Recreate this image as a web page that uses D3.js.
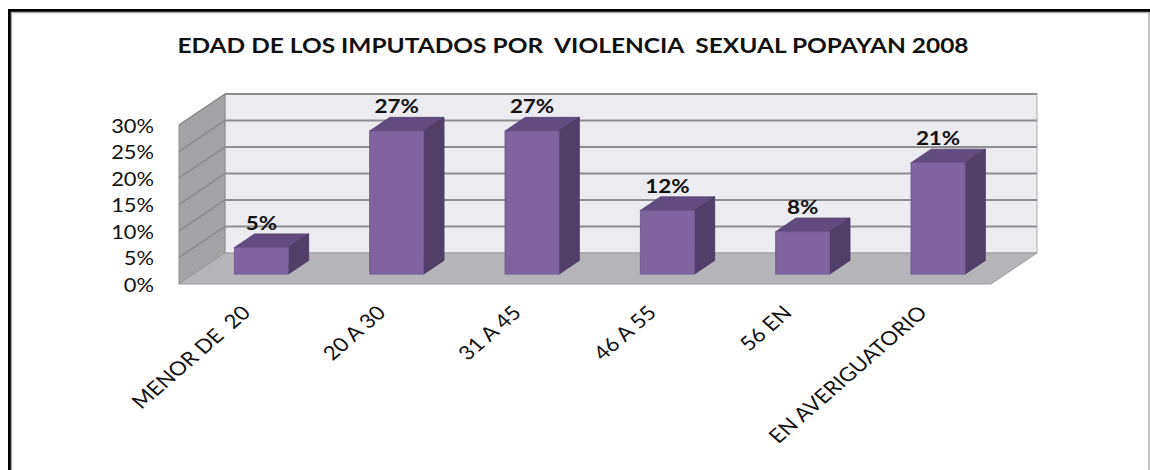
<!DOCTYPE html>
<html>
<head>
<meta charset="utf-8">
<script src="https://cdn.jsdelivr.net/npm/d3@7"></script>
<style>
  body { margin: 0; background: #fff; }
  svg { display: block; }
  text { font-family: Lato, "Open Sans", sans-serif; white-space: pre; }
</style>
</head>
<body>
<div id="chart"></div>
<script>
// datos del grafico
var categorias = ["MENOR DE  20", "20 A 30", "31 A 45", "46 A 55", "56 EN", "EN AVERIGUATORIO"];
var valores = [0.05, 0.27, 0.27, 0.12, 0.08, 0.21];
var etiquetas = ["5%", "27%", "27%", "12%", "8%", "21%"];
var ticksY = [0, 0.05, 0.10, 0.15, 0.20, 0.25, 0.30];
var titulo = "EDAD DE LOS IMPUTADOS POR  VIOLENCIA  SEXUAL POPAYAN 2008";

var width = 1150, height = 470;
var estirar = 1.15; // el original esta estirado a lo ancho

var svg = d3.select("#chart").append("svg")
    .attr("width", width)
    .attr("height", height);

// marco
svg.append("rect")
    .attr("x", 9.5).attr("y", 10.5)
    .attr("width", 1145).attr("height", 480)
    .attr("fill", "none").attr("stroke", "#000").attr("stroke-width", 3);
svg.append("rect")
    .attr("x", 11.5).attr("y", 12.5)
    .attr("width", 1137.5).attr("height", 480)
    .attr("fill", "none").attr("stroke", "#aaa").attr("stroke-width", 1.5);

// plano frontal y profundidad
var frontX0 = 179, frontX1 = 991, baseY = 284;
var depthX = 46, depthY = -31;
var barD0 = 0.32, barD1 = 0.76;

var x = d3.scaleBand()
    .domain(categorias)
    .range([frontX0, frontX1])
    .paddingInner(0.6)
    .paddingOuter(0.3);

var xCat = d3.scaleBand().domain(categorias).range([frontX0, frontX1]);

var y = d3.scaleLinear().domain([0, 0.30]).range([0, 159]);

var backBase = baseY + depthY;
var topH = y(0.30);

// pared del fondo
svg.append("rect")
    .attr("x", frontX0 + depthX).attr("y", backBase - topH)
    .attr("width", frontX1 - frontX0).attr("height", topH)
    .attr("fill", "#ecebf0").attr("stroke", "#a9a9ab").attr("stroke-width", 1);

// pared lateral
svg.append("polygon")
    .attr("points", [
        [frontX0, baseY], [frontX0, baseY - topH],
        [frontX0 + depthX, backBase - topH], [frontX0 + depthX, backBase]
    ].join(" "))
    .attr("fill", "#a3a3a6").attr("stroke", "#8f8f92").attr("stroke-width", 1);

// piso
svg.append("polygon")
    .attr("points", [
        [frontX0, baseY], [frontX1, baseY],
        [frontX1 + depthX, backBase], [frontX0 + depthX, backBase]
    ].join(" "))
    .attr("fill", "#b5b4b8").attr("stroke", "#9d9ca0").attr("stroke-width", 1);

// lineas de division
var grid = ticksY.filter(function (t) { return t > 0; });
svg.selectAll(".gridBack").data(grid).enter().append("line")
    .attr("x1", frontX0 + depthX).attr("x2", frontX1 + depthX)
    .attr("y1", function (d) { return backBase - y(d); })
    .attr("y2", function (d) { return backBase - y(d); })
    .attr("stroke", "#8e8e90").attr("stroke-width", 2);
svg.selectAll(".gridSide").data(grid).enter().append("line")
    .attr("x1", frontX0).attr("x2", frontX0 + depthX)
    .attr("y1", function (d) { return baseY - y(d); })
    .attr("y2", function (d) { return backBase - y(d); })
    .attr("stroke", "#858587").attr("stroke-width", 1.2);

// barras 3D
var fx = depthX * barD0, fy = depthY * barD0;
var bx = depthX * barD1, by = depthY * barD1;

var barras = svg.selectAll(".barra").data(valores).enter().append("g");

barras.append("polygon") // cara superior
    .attr("points", function (d, i) {
        var l = x(categorias[i]), r = l + x.bandwidth(), t = baseY - y(d);
        return [[l + fx, t + fy], [r + fx, t + fy], [r + bx, t + by], [l + bx, t + by]].join(" ");
    })
    .attr("fill", "#624b81").attr("stroke", "#56436f").attr("stroke-width", 0.8);

barras.append("polygon") // cara lateral
    .attr("points", function (d, i) {
        var r = x(categorias[i]) + x.bandwidth(), t = baseY - y(d);
        return [[r + fx, t + fy], [r + bx, t + by], [r + bx, baseY + by], [r + fx, baseY + fy]].join(" ");
    })
    .attr("fill", "#513f69").attr("stroke", "#47385c").attr("stroke-width", 0.8);

barras.append("rect") // cara frontal
    .attr("x", function (d, i) { return x(categorias[i]) + fx; })
    .attr("y", function (d) { return baseY - y(d) + fy; })
    .attr("width", x.bandwidth())
    .attr("height", function (d) { return y(d); })
    .attr("fill", "#8064a2").attr("stroke", "#6d5590").attr("stroke-width", 0.8);

// etiquetas de datos
svg.selectAll(".etiqueta").data(valores).enter().append("text")
    .attr("transform", function (d, i) {
        var cx = x(categorias[i]) + fx + x.bandwidth() / 2;
        var cy = baseY - y(d) + by - 4;
        return "translate(" + cx + "," + cy + ") scale(" + estirar + ",1)";
    })
    .attr("text-anchor", "middle")
    .attr("font-size", 19.5).attr("font-weight", "bold").attr("fill", "#111")
    .text(function (d, i) { return etiquetas[i]; });

// eje Y
svg.selectAll(".tickY").data(ticksY).enter().append("text")
    .attr("transform", function (d) {
        return "translate(154," + (baseY - y(d) + 7.5) + ") scale(" + estirar + ",1)";
    })
    .attr("text-anchor", "end")
    .attr("font-size", 19).attr("fill", "#111")
    .text(function (d) { return d3.format(".0%")(d); });

// eje X
svg.selectAll(".tickX").data(categorias).enter().append("text")
    .attr("transform", function (d) {
        return "translate(" + (xCat(d) + xCat.bandwidth() / 2 + 5) + "," + (baseY + 30) + ") scale(" + estirar + ",1) rotate(-45)";
    })
    .attr("text-anchor", "end")
    .attr("font-size", 19.5).attr("fill", "#111")
    .text(function (d) { return d; });

// titulo
svg.append("text")
    .attr("transform", "translate(573,53) scale(" + estirar + ",1)")
    .attr("text-anchor", "middle")
    .attr("font-size", 21.3).attr("font-weight", "bold").attr("fill", "#111")
    .text(titulo);
</script>
</body>
</html>
